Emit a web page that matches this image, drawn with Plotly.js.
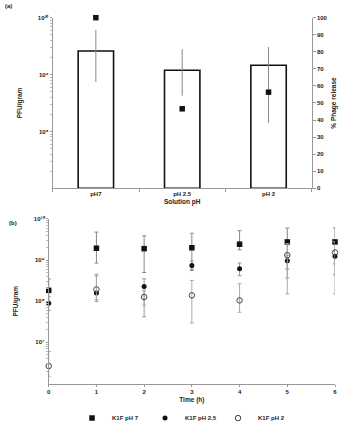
<!DOCTYPE html>
<html>
<head>
<meta charset="utf-8">
<script src="https://cdn.plot.ly/plotly-3.0.1.min.js"></script>
<style>
  html, body { margin: 0; padding: 0; background: #fff; }
  #chart { width: 343px; height: 424px; }
</style>
</head>
<body>
<div id="chart"></div>
<script>
// (a) phage release per solution pH
const phCategories = ['pH7', 'pH 2.5', 'pH 2'];
const releasePct = [80.5, 69.2, 72.1];
const releaseErrPlus = [12.3, 12.3, 10.7];
const releaseErrMinus = [18.2, 14.9, 33.8];
const pfuPerGramA = [1e10, 2.5e8, 4.9e8];

// (b) PFU/gram over time
const hours = [0, 1, 2, 3, 4, 5, 6];
const pfuPH7 = [1.84e8, 1.95e9, 1.9e9, 2.0e9, 2.44e9, 2.77e9, 2.77e9];
const pfuPH7High = [3.5e8, 4.8e9, 3.9e9, 4.5e9, 5.2e9, 6.0e9, 6.1e9];
const pfuPH7Low = [9.0e7, 8.5e8, 5.0e8, 5.6e8, 1.78e9, 6.05e8, 8.1e8];

const pfuPH25 = [8.9e7, 1.58e8, 2.3e8, 7.4e8, 6.2e8, 9.6e8, 1.25e9];
const pfuPH25High = [1.3e8, 4.17e8, 3.5e8, 9.5e8, 8.5e8, 1.3e9, 1.6e9];
const pfuPH25Low = [6.0e7, 9.95e7, 4.17e7, 6.0e8, 4.17e8, 3.67e8, 4.4e8];

const pfuPH2 = [2.66e6, 1.94e8, 1.27e8, 1.39e8, 1.05e8, 1.32e9, 1.53e9];
const pfuPH2High = [6.0e6, 4.6e8, 1.8e8, 3.2e8, 2.67e8, 2.5e9, 2.8e9];
const pfuPH2Low = [1.5e6, 1.1e8, 8.0e7, 2.98e7, 5.4e7, 1.5e8, 1.5e8];

// decade tick labels
const decadeTicksA = [1e8, 1e9, 1e10];
const decadeLabelsA = ['10⁸', '10⁹', '10¹⁰'];
const decadeTicksB = [1e7, 1e8, 1e9, 1e10];
const decadeLabelsB = ['10⁷', '10⁸', '10⁹', '10¹⁰'];

const plus = (hi, v) => hi.map((h, i) => h - v[i]);
const minus = (lo, v) => lo.map((l, i) => v[i] - l);

const FONT = 'Liberation Sans, Arial, sans-serif';
const txt = (size) => ({ family: FONT, size: size, color: '#222', weight: 'bold' });

// log-axis minor ticks (2..9 within each decade)
function minorTicks(lo, hi) {
  const out = [];
  for (let e = lo; e < hi; e++) {
    for (let m = 2; m <= 9; m++) out.push(m * Math.pow(10, e));
  }
  return out;
}

const errStyle = (hi, lo, v, color) => ({
  type: 'data', symmetric: false,
  array: plus(hi, v), arrayminus: minus(lo, v),
  color: color, thickness: 1, width: 2
});

const traces = [
  {
    type: 'bar', x: phCategories, y: releasePct,
    xaxis: 'x', yaxis: 'y',
    marker: { color: '#ffffff', line: { color: '#111', width: 1.6 } },
    error_y: {
      type: 'data', symmetric: false,
      array: releaseErrPlus, arrayminus: releaseErrMinus,
      color: '#888', thickness: 1, width: 0
    },
    showlegend: false, hoverinfo: 'skip'
  },
  {
    type: 'scatter', mode: 'markers', x: phCategories, y: pfuPerGramA,
    xaxis: 'x', yaxis: 'y2',
    marker: { symbol: 'square', size: 5.5, color: '#111' },
    cliponaxis: false, showlegend: false
  },
  {
    type: 'scatter', mode: 'markers', name: 'K1F pH 7',
    x: hours, y: pfuPH7, xaxis: 'x2', yaxis: 'y3',
    marker: { symbol: 'square', size: 5.5, color: '#111' },
    error_y: errStyle(pfuPH7High, pfuPH7Low, pfuPH7, '#888'),
    cliponaxis: false
  },
  {
    type: 'scatter', mode: 'markers', name: 'K1F pH 2.5',
    x: hours, y: pfuPH25, xaxis: 'x2', yaxis: 'y3',
    marker: { symbol: 'circle', size: 5, color: '#111' },
    error_y: errStyle(pfuPH25High, pfuPH25Low, pfuPH25, '#999'),
    cliponaxis: false
  },
  {
    type: 'scatter', mode: 'markers', name: 'K1F pH 2',
    x: hours, y: pfuPH2, xaxis: 'x2', yaxis: 'y3',
    marker: { symbol: 'circle-open', size: 5.5, color: '#444', line: { width: 1 } },
    error_y: errStyle(pfuPH2High, pfuPH2Low, pfuPH2, '#aaa'),
    cliponaxis: false
  }
];

const axisBase = {
  showgrid: false, zeroline: false, showline: true,
  linecolor: '#999', linewidth: 1, tickcolor: '#999',
  tickfont: txt(6), automargin: false
};

const layout = {
  width: 343, height: 424,
  margin: { l: 0, r: 0, t: 0, b: 0, autoexpand: false },
  paper_bgcolor: '#fff', plot_bgcolor: '#fff',
  font: txt(6),
  bargap: 0.59,
  xaxis: Object.assign({}, axisBase, {
    domain: [0.1536, 0.9088], anchor: 'y',
    type: 'category', ticks: 'outside', ticklen: 3, tickson: 'boundaries',
    title: { text: 'Solution pH', font: txt(6.5), standoff: 2 }
  }),
  yaxis: Object.assign({}, axisBase, {
    domain: [0.5559, 0.9583], anchor: 'x', side: 'right',
    range: [0, 100], dtick: 10, ticks: 'outside', ticklen: 3,
    title: { text: '% Phage release', font: txt(6.5), standoff: 4 }
  }),
  yaxis2: Object.assign({}, axisBase, {
    overlaying: 'y', anchor: 'x', side: 'left',
    type: 'log', range: [7, 10],
    tickmode: 'array', tickvals: decadeTicksA, ticktext: decadeLabelsA,
    ticks: 'outside', ticklen: 2,
    minor: { tickmode: 'array', tickvals: minorTicks(7, 10), ticks: 'outside', ticklen: 2, tickcolor: '#bbb' },
    title: { text: 'PFU/gram', font: txt(6.5), standoff: 14 }
  }),
  xaxis2: Object.assign({}, axisBase, {
    domain: [0.142, 0.9767], anchor: 'y3',
    range: [0, 6], dtick: 1, ticks: 'outside', ticklen: 2,
    title: { text: 'Time (h)', font: txt(6.5), standoff: 3 }
  }),
  yaxis3: Object.assign({}, axisBase, {
    domain: [0.0955, 0.4835], anchor: 'x2',
    type: 'log', range: [6, 10],
    tickmode: 'array', tickvals: decadeTicksB, ticktext: decadeLabelsB,
    ticks: 'outside', ticklen: 2,
    minor: { tickmode: 'array', tickvals: minorTicks(6, 10), ticks: 'outside', ticklen: 2, tickcolor: '#bbb' },
    title: { text: 'PFU/gram', font: txt(6.5), standoff: 14 }
  }),
  legend: {
    orientation: 'h', x: 0.21, xanchor: 'left', y: 0.014, yanchor: 'middle',
    font: txt(6), itemwidth: 30, entrywidth: 28, entrywidthmode: 'pixels',
    bgcolor: 'rgba(0,0,0,0)', tracegroupgap: 0
  },
  annotations: [
    { text: '(a)', x: 0.01, y: 0.998, xref: 'paper', yref: 'paper', xanchor: 'left', yanchor: 'top', showarrow: false, font: txt(6) },
    { text: '(b)', x: 0.02, y: 0.475, xref: 'paper', yref: 'paper', xanchor: 'left', yanchor: 'middle', showarrow: false, font: txt(6) }
  ]
};

Plotly.newPlot('chart', traces, layout, { staticPlot: true, displayModeBar: false });
</script>
</body>
</html>
